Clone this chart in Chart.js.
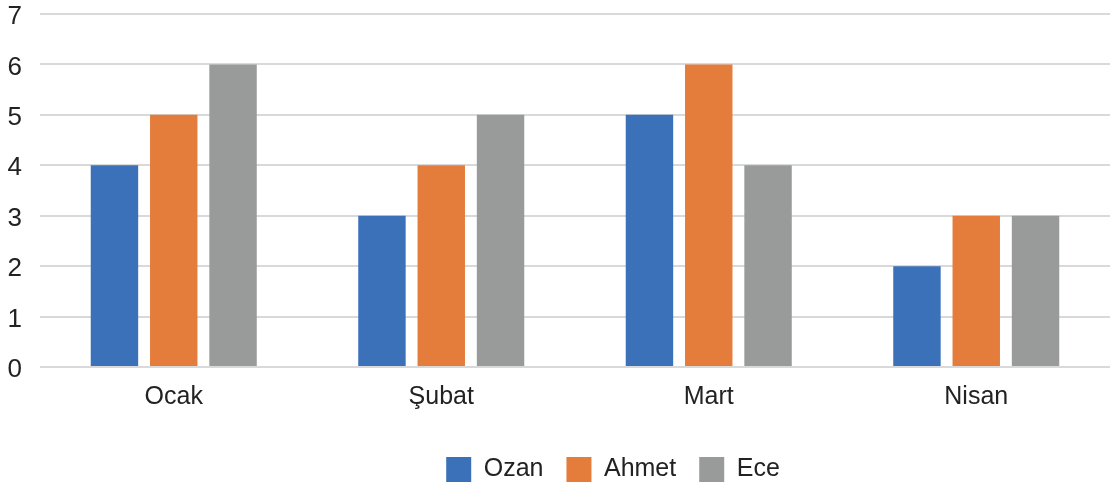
<!DOCTYPE html>
<html>
<head>
<meta charset="utf-8">
<script src="https://cdn.jsdelivr.net/npm/chart.js@4"></script>
<style>
  html, body { margin: 0; padding: 0; background: #fff; }
  #wrap { width: 1110px; height: 489px; }
</style>
</head>
<body>
<div id="wrap"><canvas id="salesChart"></canvas></div>
<script>
// Data
const months = ["Ocak", "Şubat", "Mart", "Nisan"];
const ozan = [4, 3, 5, 2];
const ahmet = [5, 4, 6, 3];
const ece = [6, 5, 4, 3];

const fontFamily = "'Liberation Sans', Arial, sans-serif";

// legend in the reference sits a bit right of the page centre
const legendShift = {
  id: "legendShift",
  afterLayout(chart) {
    const lg = chart.legend;
    if (!lg) return;
    lg.left += 58;
    lg.right += 58;
  },
};

const ctx = document.getElementById("salesChart").getContext("2d");
const salesChart = new Chart(ctx, {
  type: "bar",
  data: {
    labels: months,
    datasets: [
      { label: "Ozan", data: ozan, backgroundColor: "#3a71b9" },
      { label: "Ahmet", data: ahmet, backgroundColor: "#e47d3b" },
      { label: "Ece", data: ece, backgroundColor: "#999b9b" },
    ],
  },
  plugins: [legendShift],
  options: {
    responsive: true,
    maintainAspectRatio: false,
    animation: false,
    categoryPercentage: 0.665,
    barPercentage: 0.8,
    layout: { padding: { top: 14, right: 0, left: 0, bottom: -3 } },
    plugins: {
      tooltip: { enabled: false },
      legend: {
        position: "bottom",
        labels: {
          boxWidth: 25,
          boxHeight: 25,
          padding: 23,
          color: "#222",
          font: { family: fontFamily, size: 25 },
        },
      },
    },
    scales: {
      x: {
        afterFit: (scale) => { scale.height = 67; },
        grid: { display: false },
        border: { display: false },
        ticks: {
          color: "#222",
          padding: 7,
          font: { family: fontFamily, size: 25 },
        },
      },
      y: {
        min: 0,
        max: 7,
        afterFit: (scale) => {
          scale.width = 40;
          scale.paddingTop = 0;
          scale.paddingBottom = 0;
        },
        grid: { color: "#d9d9d9", lineWidth: 2, drawTicks: false },
        border: { display: false },
        ticks: {
          stepSize: 1,
          color: "#222",
          padding: 18,
          labelOffset: 3,
          font: { family: fontFamily, size: 26 },
        },
      },
    },
  },
});
</script>
</body>
</html>
